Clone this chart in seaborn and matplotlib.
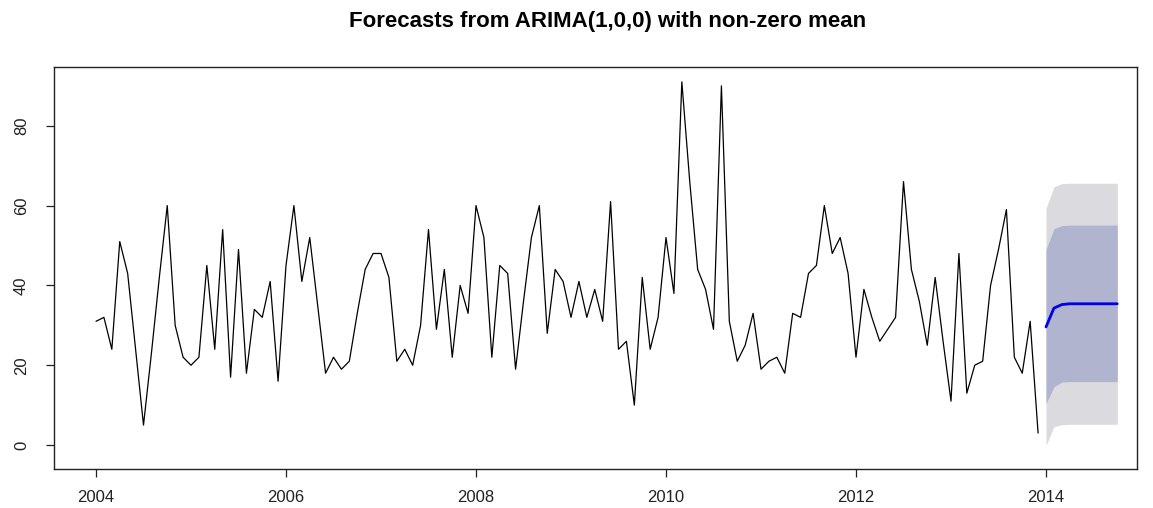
import numpy as np
import pandas as pd
import matplotlib
matplotlib.use("Agg")
import matplotlib.pyplot as plt
import seaborn as sns

# ---- data ----
start_year = 2004
observed = [31, 32, 24, 51, 43, 24, 5, 23, 42, 60, 30, 22,
            20, 22, 45, 24, 54, 17, 49, 18, 34, 32, 41, 16,
            45, 60, 41, 52, 35, 18, 22, 19, 21, 33, 44, 48,
            48, 42, 21, 24, 20, 30, 54, 29, 44, 22, 40, 33,
            60, 52, 22, 45, 43, 19, 36, 52, 60, 28, 44, 41,
            32, 41, 32, 39, 31, 61, 24, 26, 10, 42, 24, 32,
            52, 38, 91, 66, 44, 39, 29, 90, 31, 21, 25, 33,
            19, 21, 22, 18, 33, 32, 43, 45, 60, 48, 52, 43,
            22, 39, 32, 26, 29, 32, 66, 44, 36, 25, 42, 26,
            11, 48, 13, 20, 21, 40, 49, 59, 22, 18, 31, 3]
fc_mean = [29.6, 34.3, 35.2, 35.4, 35.4, 35.4, 35.4, 35.4, 35.4, 35.4]
lo80 = [10.4, 14.6, 15.8, 15.9, 15.9, 15.9, 15.9, 15.9, 15.9, 15.9]
hi80 = [49.0, 54.2, 55.0, 55.1, 55.1, 55.1, 55.1, 55.1, 55.1, 55.1]
lo95 = [-0.1, 4.6, 5.1, 5.2, 5.2, 5.2, 5.2, 5.2, 5.2, 5.2]
hi95 = [59.3, 64.7, 65.5, 65.6, 65.6, 65.6, 65.6, 65.6, 65.6, 65.6]
x_ticks = [2004, 2006, 2008, 2010, 2012, 2014]
y_ticks = [0, 20, 40, 60, 80]
title = "Forecasts from ARIMA(1,0,0) with non-zero mean"

n_obs = len(observed)
obs_df = pd.DataFrame({"t": start_year + np.arange(n_obs) / 12.0, "value": observed})
fc_df = pd.DataFrame({"t": start_year + (n_obs + np.arange(len(fc_mean))) / 12.0,
                      "mean": fc_mean, "lo80": lo80, "hi80": hi80,
                      "lo95": lo95, "hi95": hi95})

sns.set_style("ticks")
plt.rcParams["font.family"] = ["Liberation Sans", "DejaVu Sans"]

W, H = 1153, 508
fig = plt.figure(figsize=(W / 100, H / 100), dpi=100)
L, R, T, B = 54, 1137, 66.7, 469
ax = fig.add_axes([L / W, 1 - B / H, (R - L) / W, (B - T) / H])

ax.fill_between(fc_df["t"], fc_df["lo95"], fc_df["hi95"], color="#DADADF", lw=0)
ax.fill_between(fc_df["t"], fc_df["lo80"], fc_df["hi80"], color="#B0B4CF", lw=0)
sns.lineplot(data=obs_df, x="t", y="value", ax=ax, color="black", lw=0.9)
sns.lineplot(data=fc_df, x="t", y="mean", ax=ax, color="#0000EE", lw=2.0)

ax.set_xlim(2004 + (L - 96) / 95.0, 2004 + (R - 96) / 95.0)
ax.set_ylim(-6.0, 94.8)
ax.set_xticks(x_ticks)
ax.set_xticklabels([str(v) for v in x_ticks])
ax.set_yticks(y_ticks)
ax.set_yticklabels([str(v) for v in y_ticks], rotation=90, va="center")
ax.set_xlabel("")
ax.set_ylabel("")
for s in ax.spines.values():
    s.set_visible(True)
    s.set_color("#222222")
    s.set_linewidth(1.0)
ax.tick_params(axis="both", direction="out", length=6, width=0.9, color="#222222",
               labelsize=12, labelcolor="#222222")
ax.tick_params(axis="x", pad=9)
ax.tick_params(axis="y", pad=12)

fig.text(608 / W, 1 - 21 / H, title, ha="center", va="center",
         fontsize=16, fontweight="bold", color="black")

fig.savefig("out.png", dpi=100, facecolor="white")
